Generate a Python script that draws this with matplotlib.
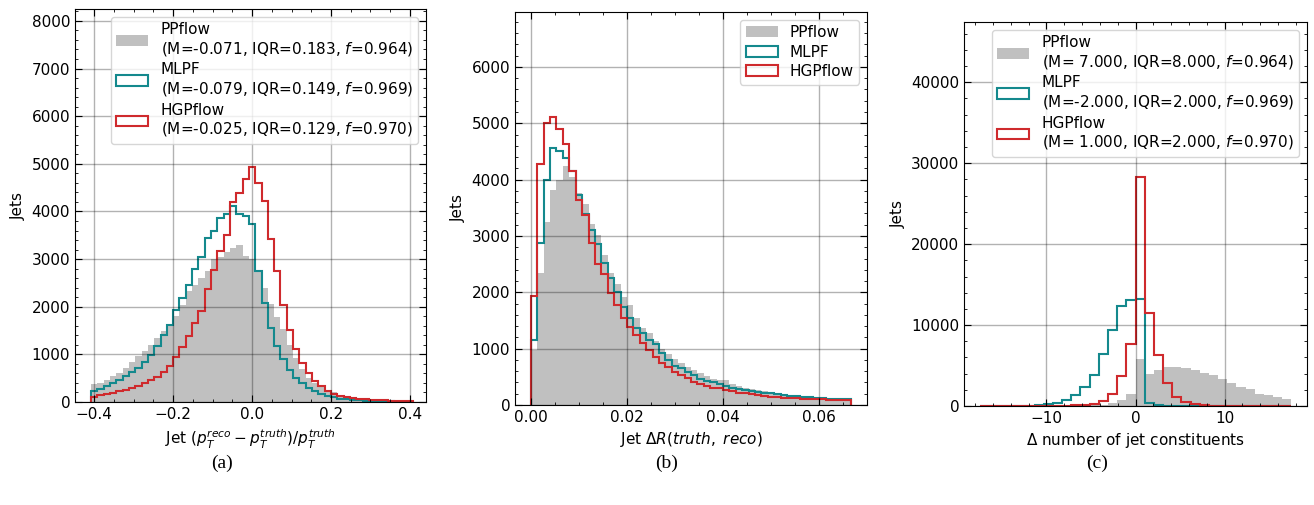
import numpy as np
import matplotlib.pyplot as plt
from matplotlib.ticker import MultipleLocator, AutoMinorLocator

plt.rcParams['font.family'] = ['DejaVu Sans']
plt.rcParams['xtick.direction'] = 'in'
plt.rcParams['ytick.direction'] = 'in'
plt.rcParams['xtick.top'] = True
plt.rcParams['ytick.right'] = True

names = ['PPflow', 'MLPF', 'HGPflow']
c_pp = '#c0c0c0'
c_mlpf = '#14898d'
c_hgp = '#cf2a2d'

# ______(a) jet pT resolution, 51 bins________________
res_edges = np.linspace(-0.408, 0.408, 52)
res_pp = [370, 400, 460, 540, 610, 710, 840, 960, 1070, 1200,
          1350, 1480, 1620, 1800, 2030, 2330, 2450, 2600, 2760, 3000,
          3050, 3140, 3230, 3300, 3060, 3000, 2780, 2400, 2060, 1790,
          1530, 1190, 930, 690, 500, 400, 320, 260, 200, 150,
          115, 90, 75, 62, 52, 45, 38, 32, 27, 22, 18]
res_mlpf = [230, 280, 330, 400, 460, 540, 620, 720, 850, 990,
            1170, 1400, 1620, 1930, 2190, 2450, 2800, 3040, 3450, 3600,
            3870, 3950, 4120, 3950, 3900, 3730, 2760, 2080, 1545, 1185,
            910, 680, 510, 400, 300, 225, 170, 125, 95, 72,
            56, 44, 35, 28, 22, 17, 14, 11, 9, 7, 6]
res_hgp = [110, 145, 165, 190, 225, 260, 300, 340, 400, 470,
           530, 620, 750, 935, 1145, 1390, 1650, 1920, 2370, 2770,
           3180, 3510, 4190, 4380, 4680, 4930, 4600, 4215, 3430, 2750,
           2030, 1520, 1120, 810, 600, 450, 330, 230, 160, 120,
           95, 80, 65, 55, 45, 38, 32, 27, 22, 20, 18]
res_stats = ['(M=-0.071, IQR=0.183, $f$=0.964)',
             '(M=-0.079, IQR=0.149, $f$=0.969)',
             '(M=-0.025, IQR=0.129, $f$=0.970)']

# ______(b) jet delta R, 50 bins________________
dr_edges = np.linspace(0, 0.0666, 51)
dr_pp = [975, 2340, 3255, 3820, 3990, 4235, 4040, 3770, 3560, 3205,
         3020, 2670, 2340, 2140, 1925, 1770, 1540, 1360, 1280, 1140,
         1000, 900, 820, 740, 680, 620, 560, 520, 470, 440,
         450, 380, 340, 310, 280, 260, 240, 220, 200, 185,
         170, 160, 150, 140, 130, 122, 115, 108, 100, 95]
dr_mlpf = [1150, 2875, 4000, 4560, 4505, 4390, 4150, 3720, 3390, 3105,
           2850, 2525, 2250, 2010, 1745, 1540, 1375, 1270, 1160, 1080,
           925, 800, 700, 650, 590, 530, 470, 430, 400, 370,
           340, 310, 285, 265, 250, 235, 220, 205, 190, 178,
           165, 155, 145, 135, 128, 120, 115, 110, 105, 100]
dr_hgp = [1940, 4275, 5005, 5115, 4890, 4630, 4150, 3640, 3365, 2875,
          2500, 2320, 1980, 1780, 1545, 1385, 1240, 1095, 975, 860,
          750, 670, 590, 530, 475, 415, 375, 340, 310, 295,
          265, 240, 220, 205, 190, 172, 160, 148, 137, 130,
          120, 122, 112, 106, 104, 100, 95, 93, 90, 88]

# ______(c) delta number of constituents, 34 bins________________
nc_edges = np.linspace(-17.5, 17.5, 35)
nc_pp = [0, 0, 0, 0, 0, 5, 8, 10, 15, 20,
         15, 35, 80, 180, 400, 780, 1440, 5850, 3910, 4410,
         4820, 4860, 4720, 4510, 4100, 3830, 3380, 2840, 2350, 2040,
         1480, 1320, 1070, 905]
nc_mlpf = [0, 0, 0, 0, 5, 10, 70, 200, 370, 740,
           1320, 2350, 3830, 6430, 9350, 12320, 13100, 13270, 420, 90,
           25, 10, 5, 0, 0, 0, 0, 0, 0, 0,
           0, 0, 0, 0]
nc_hgp = [5, 5, 5, 5, 5, 8, 10, 15, 25, 45,
          80, 130, 250, 600, 1480, 3730, 7700, 28300, 11450, 6320,
          2800, 1110, 490, 225, 100, 45, 20, 10, 5, 3,
          0, 0, 0, 0]
nc_stats = ['(M= 7.000, IQR=8.000, $f$=0.964)',
            '(M=-2.000, IQR=2.000, $f$=0.969)',
            '(M= 1.000, IQR=2.000, $f$=0.970)']


def draw(ax, edges, pp, mlpf, hgp, labels):
    centers = 0.5 * (edges[:-1] + edges[1:])
    ax.hist(centers, bins=edges, weights=pp, histtype='stepfilled',
            color=c_pp, label=labels[0])
    ax.hist(centers, bins=edges, weights=mlpf, histtype='step',
            color=c_mlpf, linewidth=1.5, label=labels[1])
    ax.hist(centers, bins=edges, weights=hgp, histtype='step',
            color=c_hgp, linewidth=1.5, label=labels[2])
    ax.grid(True, color='k', alpha=0.3, linewidth=1)
    ax.set_axisbelow(False)
    ax.xaxis.set_minor_locator(AutoMinorLocator())
    ax.yaxis.set_minor_locator(AutoMinorLocator(5))
    ax.tick_params(which='major', length=5, labelsize=11)
    ax.tick_params(which='minor', length=2.5)
    ax.set_ylabel('Jets', fontsize=11)
    ax.legend(loc='upper right', fontsize=11, labelspacing=0.3,
              handlelength=2.1, borderpad=0.35)


fig = plt.figure(figsize=(13.14, 5.05), dpi=100)
W, H = 1314, 505

ax1 = fig.add_axes([75 / W, (H - 402) / H, 351 / W, 393 / H])
draw(ax1, res_edges, res_pp, res_mlpf, res_hgp,
     [n + '\n' + s for n, s in zip(names, res_stats)])
ax1.set_xlim(-0.4488, 0.4408)
ax1.set_ylim(0, 8250)
ax1.xaxis.set_major_locator(MultipleLocator(0.2))
ax1.yaxis.set_major_locator(MultipleLocator(1000))
ax1.set_xlabel(r'Jet $(p_T^{reco} - p_T^{truth})/p_T^{truth}$', fontsize=11)

ax2 = fig.add_axes([515 / W, (H - 405) / H, 352 / W, 393 / H])
draw(ax2, dr_edges, dr_pp, dr_mlpf, dr_hgp, names)
ax2.set_xlim(-0.0033, 0.0699)
ax2.set_ylim(0, 6975)
ax2.xaxis.set_major_locator(MultipleLocator(0.02))
ax2.yaxis.set_major_locator(MultipleLocator(1000))
ax2.set_xlabel(r'Jet $\Delta R(truth,\ reco)$', fontsize=11)

ax3 = fig.add_axes([964 / W, (H - 406) / H, 343 / W, 384 / H])
draw(ax3, nc_edges, nc_pp, nc_mlpf, nc_hgp,
     [n + '\n' + s for n, s in zip(names, nc_stats)])
ax3.set_xlim(-19.25, 19.25)
ax3.set_ylim(0, 47450)
ax3.xaxis.set_major_locator(MultipleLocator(10))
ax3.yaxis.set_major_locator(MultipleLocator(10000))
ax3.set_xlabel(r'$\Delta$ number of jet constituents', fontsize=11)

for x, t in [(222, '(a)'), (667, '(b)'), (1097, '(c)')]:
    fig.text(x / W, 1 - 463 / H, t, ha='center', va='center',
             family='Liberation Serif', fontsize=14)

fig.savefig('out.png', dpi=100)
